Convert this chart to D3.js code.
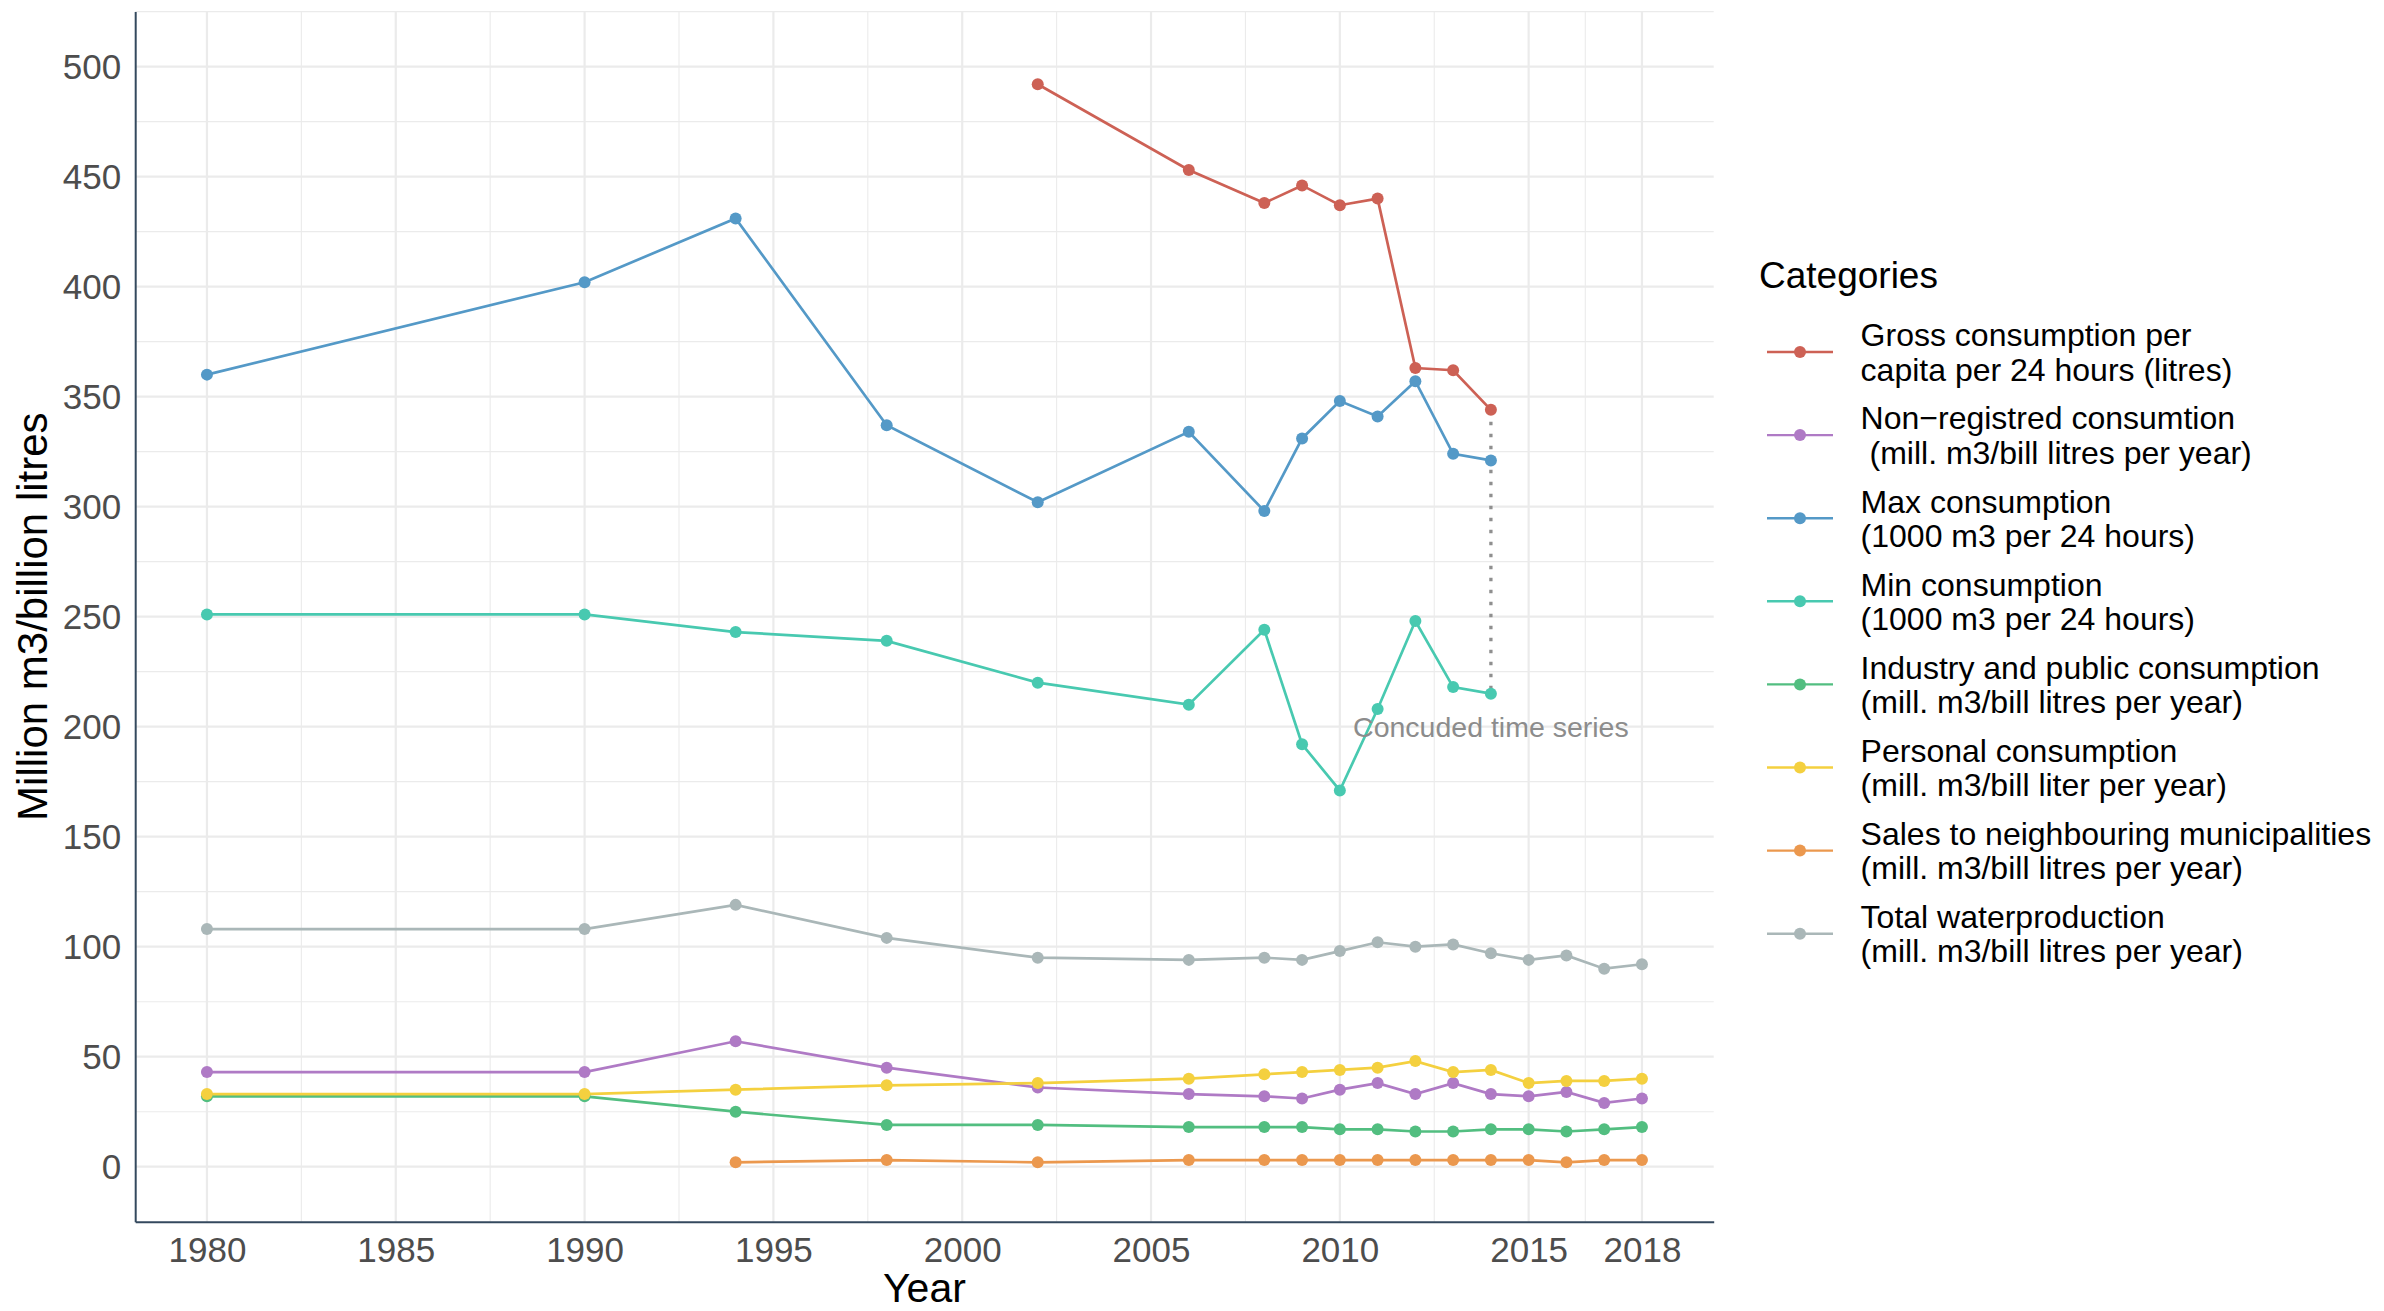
<!DOCTYPE html>
<html>
<head>
<meta charset="utf-8">
<script src="https://cdn.jsdelivr.net/npm/d3@7"></script>
<style>
  body { margin: 0; background: #fff; }
  text { font-family: "Liberation Sans", Arial, sans-serif; }
</style>
</head>
<body>
<script>
// data
const years = [1980, 1990, 1994, 1998, 2002, 2006, 2008, 2009, 2010, 2011, 2012, 2013, 2014, 2015, 2016, 2017, 2018];

const gross    = [null, null, null, null, 492, 453, 438, 446, 437, 440, 363, 362, 344, null, null, null, null];
const nonReg   = [43, 43, 57, 45, 36, 33, 32, 31, 35, 38, 33, 38, 33, 32, 34, 29, 31];
const maxCons  = [360, 402, 431, 337, 302, 334, 298, 331, 348, 341, 357, 324, 321, null, null, null, null];
const minCons  = [251, 251, 243, 239, 220, 210, 244, 192, 171, 208, 248, 218, 215, null, null, null, null];
const industry = [32, 32, 25, 19, 19, 18, 18, 18, 17, 17, 16, 16, 17, 17, 16, 17, 18];
const personal = [33, 33, 35, 37, 38, 40, 42, 43, 44, 45, 48, 43, 44, 38, 39, 39, 40];
const sales    = [null, null, 2, 3, 2, 3, 3, 3, 3, 3, 3, 3, 3, 3, 2, 3, 3];
const total    = [108, 108, 119, 104, 95, 94, 95, 94, 98, 102, 100, 101, 97, 94, 96, 90, 92];

const categories = [
  ["Gross consumption per", "capita per 24 hours (litres)"],
  ["Non\u2212registred consumtion", " (mill. m3/bill litres per year)"],
  ["Max consumption", "(1000 m3 per 24 hours)"],
  ["Min consumption", "(1000 m3 per 24 hours)"],
  ["Industry and public consumption", "(mill. m3/bill litres per year)"],
  ["Personal consumption", "(mill. m3/bill liter per year)"],
  ["Sales to neighbouring municipalities", "(mill. m3/bill litres per year)"],
  ["Total waterproduction", "(mill. m3/bill litres per year)"]
];
const seriesValues = [gross, nonReg, maxCons, minCons, industry, personal, sales, total];
const colors = ["#CD6155", "#AF7AC5", "#5499C7", "#48C9B0", "#52BE80", "#F4D03F", "#EB984E", "#AAB7B8"];

const xTicks = [1980, 1985, 1990, 1995, 2000, 2005, 2010, 2015, 2018];
const xMinor = [1982.5, 1987.5, 1992.5, 1997.5, 2002.5, 2007.5, 2012.5, 2016.5];
const yTicks = [0, 50, 100, 150, 200, 250, 300, 350, 400, 450, 500];
const yMinor = [25, 75, 125, 175, 225, 275, 325, 375, 425, 475, 525];

// annotation: concluded series marker
const noteYear = 2014;
const noteFrom = 344, noteTo = 215, noteY = 200;
const noteText = "Concuded time series";

const width = 2384, height = 1311;
const mLeft = 135.2, mRight = 1713.7, mTop = 11.6, mBottom = 1221.7;

const svg = d3.select("body").append("svg")
  .attr("width", width)
  .attr("height", height);

const x = d3.scaleLinear().domain([1978.1, 2019.9]).range([mLeft, mRight]);
const y = d3.scaleLinear().domain([-25, 525]).range([mBottom, mTop]);

// grid
const grid = svg.append("g");
grid.selectAll(".ymin").data(yMinor).join("line")
  .attr("x1", mLeft).attr("x2", mRight)
  .attr("y1", d => y(d)).attr("y2", d => y(d))
  .attr("stroke", "#ebebeb").attr("stroke-width", 1.1);
grid.selectAll(".xmin").data(xMinor).join("line")
  .attr("x1", d => x(d)).attr("x2", d => x(d))
  .attr("y1", mTop).attr("y2", mBottom)
  .attr("stroke", "#ebebeb").attr("stroke-width", 1.1);
grid.selectAll(".ymaj").data(yTicks).join("line")
  .attr("x1", mLeft).attr("x2", mRight)
  .attr("y1", d => y(d)).attr("y2", d => y(d))
  .attr("stroke", "#ebebeb").attr("stroke-width", 2.2);
grid.selectAll(".xmaj").data(xTicks).join("line")
  .attr("x1", d => x(d)).attr("x2", d => x(d))
  .attr("y1", mTop).attr("y2", mBottom)
  .attr("stroke", "#ebebeb").attr("stroke-width", 2.2);

// axes
const xAxis = svg.append("g")
  .attr("transform", `translate(0,${mBottom})`)
  .call(d3.axisBottom(x).tickValues(xTicks).tickFormat(d3.format("d")).tickSize(0).tickPadding(15));
const yAxis = svg.append("g")
  .attr("transform", `translate(${mLeft},0)`)
  .call(d3.axisLeft(y).tickValues(yTicks).tickSize(0).tickPadding(14));
[xAxis, yAxis].forEach(a => {
  a.select(".domain").attr("stroke", "#34495E").attr("stroke-width", 2);
  a.selectAll("text").attr("font-size", 35).attr("fill", "#4d4d4d")
    .attr("font-family", "'Liberation Sans', Arial, sans-serif");
});
yAxis.selectAll("text").attr("dy", "0.35em");

svg.append("text")
  .attr("transform", `translate(47,${(mTop + mBottom) / 2}) rotate(-90)`)
  .attr("text-anchor", "middle")
  .attr("font-size", 42)
  .text("Million m3/billion litres");
svg.append("text")
  .attr("x", (mLeft + mRight) / 2).attr("y", 1302)
  .attr("text-anchor", "middle")
  .attr("font-size", 41)
  .text("Year");

// series
const series = categories.map((c, i) => ({
  name: c, color: colors[i],
  points: years.map((yr, j) => ({ year: yr, value: seriesValues[i][j] })).filter(p => p.value != null)
}));

const line = d3.line().x(d => x(d.year)).y(d => y(d.value));

svg.append("g").selectAll("path").data(series).join("path")
  .attr("d", d => line(d.points))
  .attr("fill", "none")
  .attr("stroke", d => d.color)
  .attr("stroke-width", 2.7);

svg.append("line")
  .attr("x1", x(noteYear)).attr("x2", x(noteYear))
  .attr("y1", y(noteFrom)).attr("y2", y(noteTo))
  .attr("stroke", "#8f8f8f")
  .attr("stroke-width", 3.3)
  .attr("stroke-dasharray", "3.3 8.7");

const pts = svg.append("g");
series.forEach(s => {
  pts.append("g").selectAll("circle").data(s.points).join("circle")
    .attr("cx", d => x(d.year))
    .attr("cy", d => y(d.value))
    .attr("r", 6)
    .attr("fill", s.color);
});

svg.append("text")
  .attr("x", x(noteYear)).attr("y", y(noteY))
  .attr("dy", "0.35em")
  .attr("text-anchor", "middle")
  .attr("font-size", 28.5)
  .attr("fill", "#8c8c8c")
  .text(noteText);

// legend
const legend = svg.append("g");
legend.append("text")
  .attr("x", 1759).attr("y", 288)
  .attr("font-size", 37)
  .text("Categories");

const item = legend.selectAll(".item").data(series).join("g")
  .attr("transform", (d, i) => `translate(0,${352 + i * 83.1})`);
item.append("line")
  .attr("x1", 1767).attr("x2", 1833)
  .attr("stroke", d => d.color).attr("stroke-width", 2.4);
item.append("circle")
  .attr("cx", 1800).attr("r", 6)
  .attr("fill", d => d.color);
item.append("text")
  .attr("x", 1860.6).attr("y", -5.7)
  .attr("font-size", 32)
  .style("white-space", "pre")
  .text(d => d.name[0]);
item.append("text")
  .attr("x", 1860.6).attr("y", 28.7)
  .attr("font-size", 32)
  .style("white-space", "pre")
  .text(d => d.name[1]);
</script>
</body>
</html>
